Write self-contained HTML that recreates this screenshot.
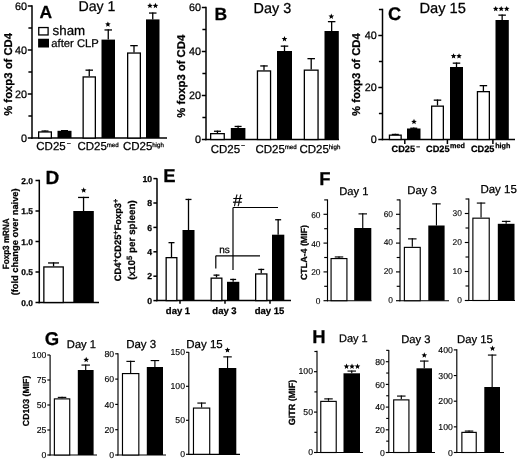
<!DOCTYPE html>
<html><head><meta charset="utf-8"><title>Figure</title>
<style>
html,body{margin:0;padding:0;background:#fff;}
svg{display:block;font-family:"Liberation Sans",sans-serif;fill:#000;will-change:transform;text-rendering:geometricPrecision;}
text{stroke:#000;stroke-width:0.25px;stroke-linejoin:round;}
</style></head><body>
<svg width="520" height="460" viewBox="0 0 520 460">
<rect x="0" y="0" width="520" height="460" fill="#fff" stroke="none"/>
<line x1="32.00" y1="5.25" x2="32.00" y2="138.75" stroke="#000" stroke-width="1.5"/>
<line x1="31.25" y1="138.00" x2="167.00" y2="138.00" stroke="#000" stroke-width="1.5"/>
<line x1="27.80" y1="138.00" x2="32.00" y2="138.00" stroke="#000" stroke-width="1.5"/>
<text x="26.90" y="141.80" font-size="10.8" text-anchor="end">0</text>
<line x1="27.80" y1="94.00" x2="32.00" y2="94.00" stroke="#000" stroke-width="1.5"/>
<text x="26.90" y="97.80" font-size="10.8" text-anchor="end">20</text>
<line x1="27.80" y1="50.00" x2="32.00" y2="50.00" stroke="#000" stroke-width="1.5"/>
<text x="26.90" y="53.80" font-size="10.8" text-anchor="end">40</text>
<line x1="27.80" y1="6.00" x2="32.00" y2="6.00" stroke="#000" stroke-width="1.5"/>
<text x="26.90" y="9.80" font-size="10.8" text-anchor="end">60</text>
<line x1="28.40" y1="116.00" x2="32.00" y2="116.00" stroke="#000" stroke-width="1.5"/>
<line x1="28.40" y1="72.00" x2="32.00" y2="72.00" stroke="#000" stroke-width="1.5"/>
<line x1="28.40" y1="28.00" x2="32.00" y2="28.00" stroke="#000" stroke-width="1.5"/>
<rect x="38.65" y="131.95" width="12.70" height="6.05" fill="#fff" stroke="#000" stroke-width="1.3"/>
<line x1="45.00" y1="131.30" x2="45.00" y2="130.40" stroke="#000" stroke-width="1.3"/>
<line x1="41.50" y1="131.05" x2="48.50" y2="131.05" stroke="#000" stroke-width="1.3"/>
<rect x="57.50" y="130.80" width="14.00" height="7.20" fill="#000"/>
<line x1="64.50" y1="130.80" x2="64.50" y2="130.00" stroke="#000" stroke-width="1.3"/>
<line x1="61.00" y1="130.65" x2="68.00" y2="130.65" stroke="#000" stroke-width="1.3"/>
<rect x="83.15" y="76.95" width="12.20" height="61.05" fill="#fff" stroke="#000" stroke-width="1.3"/>
<line x1="89.25" y1="76.30" x2="89.25" y2="69.50" stroke="#000" stroke-width="1.3"/>
<line x1="85.50" y1="70.15" x2="93.00" y2="70.15" stroke="#000" stroke-width="1.3"/>
<rect x="101.50" y="39.60" width="13.50" height="98.40" fill="#000"/>
<line x1="108.25" y1="39.60" x2="108.25" y2="29.30" stroke="#000" stroke-width="1.3"/>
<line x1="104.50" y1="29.95" x2="112.00" y2="29.95" stroke="#000" stroke-width="1.3"/>
<rect x="127.65" y="53.05" width="12.70" height="84.95" fill="#fff" stroke="#000" stroke-width="1.3"/>
<line x1="134.00" y1="52.40" x2="134.00" y2="45.00" stroke="#000" stroke-width="1.3"/>
<line x1="130.25" y1="45.65" x2="137.75" y2="45.65" stroke="#000" stroke-width="1.3"/>
<rect x="146.00" y="19.40" width="13.50" height="118.60" fill="#000"/>
<line x1="152.75" y1="19.40" x2="152.75" y2="12.40" stroke="#000" stroke-width="1.3"/>
<line x1="149.00" y1="13.05" x2="156.50" y2="13.05" stroke="#000" stroke-width="1.3"/>
<text x="12.20" y="74.40" font-size="11.3" font-weight="bold" text-anchor="middle" transform="rotate(-90 12.20 74.40)">% foxp3 of CD4</text>
<text x="39.60" y="17.50" font-size="17.5" font-weight="bold">A</text>
<text x="78.40" y="11.40" font-size="14.2">Day 1</text>
<rect x="38.75" y="27.55" width="9.35" height="7.4" fill="#fff" stroke="#000" stroke-width="1.3"/>
<rect x="38.1" y="38.75" width="10.9" height="8.75" fill="#000"/>
<text x="52.60" y="34.60" font-size="13.3">sham</text>
<text x="51.30" y="47.00" font-size="11.25">after CLP</text>
<polygon points="107.90,21.44 108.68,23.32 110.71,23.48 109.16,24.80 109.63,26.78 107.90,25.71 106.17,26.78 106.64,24.80 105.09,23.48 107.12,23.32" fill="#000"/>
<polygon points="149.95,2.84 150.73,4.72 152.76,4.88 151.21,6.20 151.68,8.18 149.95,7.11 148.22,8.18 148.69,6.20 147.14,4.88 149.17,4.72" fill="#000"/>
<polygon points="155.45,2.84 156.23,4.72 158.26,4.88 156.71,6.20 157.18,8.18 155.45,7.11 153.72,8.18 154.19,6.20 152.64,4.88 154.67,4.72" fill="#000"/>
<text x="36.30" y="149.80" font-size="11.5">CD25</text>
<text x="66.70" y="145.60" font-size="7">&#8722;</text>
<text x="77.50" y="149.80" font-size="11.5">CD25</text>
<text x="106.70" y="146.60" font-size="6.15">med</text>
<text x="123.00" y="149.80" font-size="11.5">CD25</text>
<text x="152.20" y="146.60" font-size="6.15">high</text>
<line x1="206.00" y1="6.75" x2="206.00" y2="140.25" stroke="#000" stroke-width="1.5"/>
<line x1="205.25" y1="139.50" x2="339.00" y2="139.50" stroke="#000" stroke-width="1.5"/>
<line x1="201.80" y1="139.50" x2="206.00" y2="139.50" stroke="#000" stroke-width="1.5"/>
<text x="200.90" y="143.30" font-size="10.8" text-anchor="end">0</text>
<line x1="201.80" y1="95.50" x2="206.00" y2="95.50" stroke="#000" stroke-width="1.5"/>
<text x="200.90" y="99.30" font-size="10.8" text-anchor="end">20</text>
<line x1="201.80" y1="51.50" x2="206.00" y2="51.50" stroke="#000" stroke-width="1.5"/>
<text x="200.90" y="55.30" font-size="10.8" text-anchor="end">40</text>
<line x1="201.80" y1="7.50" x2="206.00" y2="7.50" stroke="#000" stroke-width="1.5"/>
<text x="200.90" y="11.30" font-size="10.8" text-anchor="end">60</text>
<line x1="202.40" y1="117.50" x2="206.00" y2="117.50" stroke="#000" stroke-width="1.5"/>
<line x1="202.40" y1="73.50" x2="206.00" y2="73.50" stroke="#000" stroke-width="1.5"/>
<line x1="202.40" y1="29.50" x2="206.00" y2="29.50" stroke="#000" stroke-width="1.5"/>
<rect x="210.65" y="133.65" width="13.60" height="5.85" fill="#fff" stroke="#000" stroke-width="1.3"/>
<line x1="217.45" y1="133.00" x2="217.45" y2="130.60" stroke="#000" stroke-width="1.3"/>
<line x1="213.95" y1="131.25" x2="220.95" y2="131.25" stroke="#000" stroke-width="1.3"/>
<rect x="230.80" y="128.00" width="14.60" height="11.50" fill="#000"/>
<line x1="238.10" y1="128.00" x2="238.10" y2="125.80" stroke="#000" stroke-width="1.3"/>
<line x1="234.60" y1="126.45" x2="241.60" y2="126.45" stroke="#000" stroke-width="1.3"/>
<rect x="257.45" y="70.95" width="13.10" height="68.55" fill="#fff" stroke="#000" stroke-width="1.3"/>
<line x1="264.00" y1="70.30" x2="264.00" y2="65.30" stroke="#000" stroke-width="1.3"/>
<line x1="260.25" y1="65.95" x2="267.75" y2="65.95" stroke="#000" stroke-width="1.3"/>
<rect x="277.00" y="51.00" width="15.00" height="88.50" fill="#000"/>
<line x1="284.50" y1="51.00" x2="284.50" y2="45.50" stroke="#000" stroke-width="1.3"/>
<line x1="280.75" y1="46.15" x2="288.25" y2="46.15" stroke="#000" stroke-width="1.3"/>
<rect x="304.35" y="70.15" width="13.70" height="69.35" fill="#fff" stroke="#000" stroke-width="1.3"/>
<line x1="311.20" y1="69.50" x2="311.20" y2="58.00" stroke="#000" stroke-width="1.3"/>
<line x1="307.45" y1="58.65" x2="314.95" y2="58.65" stroke="#000" stroke-width="1.3"/>
<rect x="324.50" y="31.00" width="14.30" height="108.50" fill="#000"/>
<line x1="331.65" y1="31.00" x2="331.65" y2="21.00" stroke="#000" stroke-width="1.3"/>
<line x1="327.90" y1="21.65" x2="335.40" y2="21.65" stroke="#000" stroke-width="1.3"/>
<text x="185.00" y="76.20" font-size="11.3" font-weight="bold" text-anchor="middle" transform="rotate(-90 185.00 76.20)">% foxp3 of CD4</text>
<text x="214.60" y="19.50" font-size="17.5" font-weight="bold">B</text>
<text x="253.60" y="12.60" font-size="14.4">Day 3</text>
<polygon points="284.50,36.04 285.28,37.92 287.31,38.08 285.76,39.40 286.23,41.38 284.50,40.31 282.77,41.38 283.24,39.40 281.69,38.08 283.72,37.92" fill="#000"/>
<polygon points="331.30,13.54 332.08,15.42 334.11,15.58 332.56,16.90 333.03,18.88 331.30,17.81 329.57,18.88 330.04,16.90 328.49,15.58 330.52,15.42" fill="#000"/>
<text x="210.70" y="152.50" font-size="11.5">CD25</text>
<text x="241.10" y="148.30" font-size="7">&#8722;</text>
<text x="255.50" y="152.50" font-size="11.5">CD25</text>
<text x="284.70" y="149.30" font-size="6.15">med</text>
<text x="299.50" y="152.50" font-size="11.5">CD25</text>
<text x="328.70" y="149.30" font-size="6.15">high</text>
<line x1="382.50" y1="8.75" x2="382.50" y2="140.25" stroke="#000" stroke-width="1.5"/>
<line x1="381.75" y1="139.50" x2="515.00" y2="139.50" stroke="#000" stroke-width="1.5"/>
<line x1="378.30" y1="139.50" x2="382.50" y2="139.50" stroke="#000" stroke-width="1.5"/>
<text x="376.80" y="143.30" font-size="10.8" text-anchor="end">0</text>
<line x1="378.30" y1="87.50" x2="382.50" y2="87.50" stroke="#000" stroke-width="1.5"/>
<text x="376.80" y="91.30" font-size="10.8" text-anchor="end">20</text>
<line x1="378.30" y1="35.50" x2="382.50" y2="35.50" stroke="#000" stroke-width="1.5"/>
<text x="376.80" y="39.30" font-size="10.8" text-anchor="end">40</text>
<line x1="378.90" y1="113.50" x2="382.50" y2="113.50" stroke="#000" stroke-width="1.5"/>
<line x1="378.90" y1="61.50" x2="382.50" y2="61.50" stroke="#000" stroke-width="1.5"/>
<line x1="378.90" y1="9.50" x2="382.50" y2="9.50" stroke="#000" stroke-width="1.5"/>
<line x1="404.80" y1="139.50" x2="404.80" y2="144.00" stroke="#000" stroke-width="1.5"/>
<line x1="447.40" y1="139.50" x2="447.40" y2="144.00" stroke="#000" stroke-width="1.5"/>
<line x1="492.90" y1="139.50" x2="492.90" y2="144.00" stroke="#000" stroke-width="1.5"/>
<rect x="389.45" y="135.15" width="11.70" height="4.35" fill="#fff" stroke="#000" stroke-width="1.3"/>
<line x1="395.30" y1="134.50" x2="395.30" y2="133.80" stroke="#000" stroke-width="1.3"/>
<line x1="391.80" y1="134.45" x2="398.80" y2="134.45" stroke="#000" stroke-width="1.3"/>
<rect x="407.00" y="128.50" width="13.50" height="11.00" fill="#000"/>
<line x1="413.75" y1="128.50" x2="413.75" y2="127.60" stroke="#000" stroke-width="1.3"/>
<line x1="410.25" y1="128.25" x2="417.25" y2="128.25" stroke="#000" stroke-width="1.3"/>
<rect x="431.65" y="106.15" width="11.70" height="33.35" fill="#fff" stroke="#000" stroke-width="1.3"/>
<line x1="437.50" y1="105.50" x2="437.50" y2="99.50" stroke="#000" stroke-width="1.3"/>
<line x1="433.75" y1="100.15" x2="441.25" y2="100.15" stroke="#000" stroke-width="1.3"/>
<rect x="450.00" y="67.00" width="13.00" height="72.50" fill="#000"/>
<line x1="456.50" y1="67.00" x2="456.50" y2="62.50" stroke="#000" stroke-width="1.3"/>
<line x1="452.75" y1="63.15" x2="460.25" y2="63.15" stroke="#000" stroke-width="1.3"/>
<rect x="477.45" y="91.65" width="11.90" height="47.85" fill="#fff" stroke="#000" stroke-width="1.3"/>
<line x1="483.40" y1="91.00" x2="483.40" y2="85.00" stroke="#000" stroke-width="1.3"/>
<line x1="479.65" y1="85.65" x2="487.15" y2="85.65" stroke="#000" stroke-width="1.3"/>
<rect x="495.50" y="20.00" width="13.30" height="119.50" fill="#000"/>
<line x1="502.15" y1="20.00" x2="502.15" y2="14.50" stroke="#000" stroke-width="1.3"/>
<line x1="498.40" y1="15.15" x2="505.90" y2="15.15" stroke="#000" stroke-width="1.3"/>
<text x="360.10" y="74.60" font-size="11.3" font-weight="bold" text-anchor="middle" transform="rotate(-90 360.10 74.60)">% foxp3 of CD4</text>
<text x="387.90" y="19.50" font-size="18.3" font-weight="bold">C</text>
<text x="419.40" y="13.30" font-size="14.7">Day 15</text>
<polygon points="414.00,118.84 414.78,120.72 416.81,120.88 415.26,122.20 415.73,124.18 414.00,123.11 412.27,124.18 412.74,122.20 411.19,120.88 413.22,120.72" fill="#000"/>
<polygon points="453.55,53.20 454.33,55.08 456.36,55.24 454.81,56.56 455.28,58.54 453.55,57.47 451.82,58.54 452.29,56.56 450.74,55.24 452.77,55.08" fill="#000"/>
<polygon points="459.05,53.20 459.83,55.08 461.86,55.24 460.31,56.56 460.78,58.54 459.05,57.47 457.32,58.54 457.79,56.56 456.24,55.24 458.27,55.08" fill="#000"/>
<polygon points="495.70,5.90 496.48,7.78 498.51,7.94 496.96,9.26 497.43,11.24 495.70,10.17 493.97,11.24 494.44,9.26 492.89,7.94 494.92,7.78" fill="#000"/>
<polygon points="501.20,5.90 501.98,7.78 504.01,7.94 502.46,9.26 502.93,11.24 501.20,10.17 499.47,11.24 499.94,9.26 498.39,7.94 500.42,7.78" fill="#000"/>
<polygon points="506.70,5.90 507.48,7.78 509.51,7.94 507.96,9.26 508.43,11.24 506.70,10.17 504.97,11.24 505.44,9.26 503.89,7.94 505.92,7.78" fill="#000"/>
<text x="391.50" y="152.20" font-size="9.2" font-weight="bold">CD25</text>
<text x="416.20" y="149.00" font-size="6.5" font-weight="bold">&#8722;</text>
<text x="426.00" y="152.20" font-size="9.2" font-weight="bold">CD25</text>
<text x="450.10" y="147.60" font-size="7.2" font-weight="bold">med</text>
<text x="470.90" y="152.40" font-size="9.2" font-weight="bold">CD25</text>
<text x="495.20" y="148.40" font-size="7.2" font-weight="bold">high</text>
<line x1="39.30" y1="179.75" x2="39.30" y2="303.25" stroke="#000" stroke-width="1.5"/>
<line x1="38.55" y1="302.50" x2="99.00" y2="302.50" stroke="#000" stroke-width="1.5"/>
<line x1="35.50" y1="302.50" x2="39.30" y2="302.50" stroke="#000" stroke-width="1.5"/>
<text x="32.90" y="305.50" font-size="8.4" font-weight="bold" text-anchor="end">0.0</text>
<line x1="35.50" y1="272.00" x2="39.30" y2="272.00" stroke="#000" stroke-width="1.5"/>
<text x="32.90" y="275.00" font-size="8.4" font-weight="bold" text-anchor="end">0.5</text>
<line x1="35.50" y1="241.50" x2="39.30" y2="241.50" stroke="#000" stroke-width="1.5"/>
<text x="32.90" y="244.50" font-size="8.4" font-weight="bold" text-anchor="end">1.0</text>
<line x1="35.50" y1="211.00" x2="39.30" y2="211.00" stroke="#000" stroke-width="1.5"/>
<text x="32.90" y="214.00" font-size="8.4" font-weight="bold" text-anchor="end">1.5</text>
<line x1="35.50" y1="180.50" x2="39.30" y2="180.50" stroke="#000" stroke-width="1.5"/>
<text x="32.90" y="183.50" font-size="8.4" font-weight="bold" text-anchor="end">2.0</text>
<rect x="43.85" y="266.95" width="19.40" height="35.55" fill="#fff" stroke="#000" stroke-width="1.3"/>
<line x1="53.55" y1="266.30" x2="53.55" y2="262.30" stroke="#000" stroke-width="1.3"/>
<line x1="48.05" y1="262.95" x2="59.05" y2="262.95" stroke="#000" stroke-width="1.3"/>
<rect x="73.30" y="211.00" width="20.50" height="91.50" fill="#000"/>
<line x1="83.55" y1="211.00" x2="83.55" y2="196.80" stroke="#000" stroke-width="1.3"/>
<line x1="78.05" y1="197.45" x2="89.05" y2="197.45" stroke="#000" stroke-width="1.3"/>
<polygon points="83.70,187.34 84.48,189.22 86.51,189.38 84.96,190.70 85.43,192.68 83.70,191.61 81.97,192.68 82.44,190.70 80.89,189.38 82.92,189.22" fill="#000"/>
<text x="45.40" y="183.90" font-size="19" font-weight="bold">D</text>
<text x="0.00" y="0.00" font-size="9.0" font-weight="bold" text-anchor="middle" transform="translate(8.60 243.80) rotate(-90) scale(0.9 1)">Foxp3 mRNA</text>
<text x="17.90" y="241.90" font-size="9.3" font-weight="bold" text-anchor="middle" transform="rotate(-90 17.90 241.90)">(fold change over naive)</text>
<line x1="157.00" y1="178.15" x2="157.00" y2="301.35" stroke="#000" stroke-width="1.5"/>
<line x1="156.25" y1="300.60" x2="291.00" y2="300.60" stroke="#000" stroke-width="1.5"/>
<line x1="153.40" y1="300.60" x2="157.00" y2="300.60" stroke="#000" stroke-width="1.5"/>
<text x="152.10" y="303.70" font-size="8.7" font-weight="bold" text-anchor="end">0</text>
<line x1="153.40" y1="276.20" x2="157.00" y2="276.20" stroke="#000" stroke-width="1.5"/>
<text x="152.10" y="279.30" font-size="8.7" font-weight="bold" text-anchor="end">2</text>
<line x1="153.40" y1="251.80" x2="157.00" y2="251.80" stroke="#000" stroke-width="1.5"/>
<text x="152.10" y="254.90" font-size="8.7" font-weight="bold" text-anchor="end">4</text>
<line x1="153.40" y1="227.40" x2="157.00" y2="227.40" stroke="#000" stroke-width="1.5"/>
<text x="152.10" y="230.50" font-size="8.7" font-weight="bold" text-anchor="end">6</text>
<line x1="153.40" y1="203.00" x2="157.00" y2="203.00" stroke="#000" stroke-width="1.5"/>
<text x="152.10" y="206.10" font-size="8.7" font-weight="bold" text-anchor="end">8</text>
<line x1="153.40" y1="178.60" x2="157.00" y2="178.60" stroke="#000" stroke-width="1.5"/>
<text x="152.10" y="181.70" font-size="8.7" font-weight="bold" text-anchor="end">10</text>
<line x1="180.00" y1="300.60" x2="180.00" y2="303.80" stroke="#000" stroke-width="1.5"/>
<line x1="225.00" y1="300.60" x2="225.00" y2="303.80" stroke="#000" stroke-width="1.5"/>
<line x1="270.00" y1="300.60" x2="270.00" y2="303.80" stroke="#000" stroke-width="1.5"/>
<rect x="166.15" y="257.65" width="10.70" height="42.95" fill="#fff" stroke="#000" stroke-width="1.3"/>
<line x1="171.50" y1="257.00" x2="171.50" y2="242.00" stroke="#000" stroke-width="1.3"/>
<line x1="168.50" y1="242.65" x2="174.50" y2="242.65" stroke="#000" stroke-width="1.3"/>
<rect x="182.50" y="230.00" width="12.00" height="70.60" fill="#000"/>
<line x1="188.50" y1="230.00" x2="188.50" y2="198.80" stroke="#000" stroke-width="1.3"/>
<line x1="185.50" y1="199.45" x2="191.50" y2="199.45" stroke="#000" stroke-width="1.3"/>
<rect x="211.15" y="278.15" width="10.70" height="22.45" fill="#fff" stroke="#000" stroke-width="1.3"/>
<line x1="216.50" y1="277.50" x2="216.50" y2="274.50" stroke="#000" stroke-width="1.3"/>
<line x1="213.50" y1="275.15" x2="219.50" y2="275.15" stroke="#000" stroke-width="1.3"/>
<rect x="227.00" y="281.80" width="12.30" height="18.80" fill="#000"/>
<line x1="233.15" y1="281.80" x2="233.15" y2="278.80" stroke="#000" stroke-width="1.3"/>
<line x1="230.15" y1="279.45" x2="236.15" y2="279.45" stroke="#000" stroke-width="1.3"/>
<rect x="255.65" y="273.95" width="11.20" height="26.65" fill="#fff" stroke="#000" stroke-width="1.3"/>
<line x1="261.25" y1="273.30" x2="261.25" y2="268.80" stroke="#000" stroke-width="1.3"/>
<line x1="258.25" y1="269.45" x2="264.25" y2="269.45" stroke="#000" stroke-width="1.3"/>
<rect x="272.00" y="234.70" width="12.30" height="65.90" fill="#000"/>
<line x1="278.15" y1="234.70" x2="278.15" y2="219.10" stroke="#000" stroke-width="1.3"/>
<line x1="275.15" y1="219.75" x2="281.15" y2="219.75" stroke="#000" stroke-width="1.3"/>
<line x1="215.80" y1="255.80" x2="260.00" y2="255.80" stroke="#000" stroke-width="1.2"/>
<line x1="215.80" y1="255.80" x2="215.80" y2="268.50" stroke="#000" stroke-width="1.2"/>
<line x1="233.00" y1="207.50" x2="278.00" y2="207.50" stroke="#000" stroke-width="1.2"/>
<line x1="233.00" y1="207.50" x2="233.00" y2="270.00" stroke="#000" stroke-width="1.2"/>
<text x="219.20" y="253.00" font-size="10">ns</text>
<text x="232.90" y="205.80" font-size="16.5">#</text>
<text x="178.00" y="313.90" font-size="9.5" font-weight="bold" text-anchor="middle">day 1</text>
<text x="224.50" y="313.90" font-size="9.5" font-weight="bold" text-anchor="middle">day 3</text>
<text x="269.50" y="313.90" font-size="9.5" font-weight="bold" text-anchor="middle">day 15</text>
<text x="163.20" y="182.00" font-size="18.5" font-weight="bold">E</text>
<text x="120.70" y="240.00" font-size="9.3" font-weight="bold" text-anchor="middle" transform="rotate(-90 120.70 240.00)">CD4<tspan dy="-3" font-size="7.3">+</tspan><tspan dy="3">CD25</tspan><tspan dy="-3" font-size="7.3">+</tspan><tspan dy="3">Foxp3</tspan><tspan dy="-3" font-size="7.3">+</tspan></text>
<text x="135.30" y="240.00" font-size="9.9" font-weight="bold" text-anchor="middle" transform="rotate(-90 135.30 240.00)">(x10<tspan dy="-3.2" font-size="7.6">5</tspan><tspan dy="3.2"> per spleen)</tspan></text>
<line x1="327.50" y1="199.43" x2="327.50" y2="301.27" stroke="#000" stroke-width="1.15"/>
<line x1="326.93" y1="300.70" x2="371.50" y2="300.70" stroke="#000" stroke-width="1.15"/>
<line x1="323.50" y1="300.70" x2="327.50" y2="300.70" stroke="#000" stroke-width="1.15"/>
<text x="320.50" y="304.10" font-size="8.4" text-anchor="end" style="stroke-width:0.12px">0</text>
<line x1="323.50" y1="271.90" x2="327.50" y2="271.90" stroke="#000" stroke-width="1.15"/>
<text x="320.50" y="275.30" font-size="8.4" text-anchor="end" style="stroke-width:0.12px">20</text>
<line x1="323.50" y1="243.10" x2="327.50" y2="243.10" stroke="#000" stroke-width="1.15"/>
<text x="320.50" y="246.50" font-size="8.4" text-anchor="end" style="stroke-width:0.12px">40</text>
<line x1="323.50" y1="214.30" x2="327.50" y2="214.30" stroke="#000" stroke-width="1.15"/>
<text x="320.50" y="217.70" font-size="8.4" text-anchor="end" style="stroke-width:0.12px">60</text>
<line x1="324.20" y1="286.30" x2="327.50" y2="286.30" stroke="#000" stroke-width="1.15"/>
<line x1="324.20" y1="257.50" x2="327.50" y2="257.50" stroke="#000" stroke-width="1.15"/>
<line x1="324.20" y1="228.70" x2="327.50" y2="228.70" stroke="#000" stroke-width="1.15"/>
<line x1="324.20" y1="199.90" x2="327.50" y2="199.90" stroke="#000" stroke-width="1.15"/>
<rect x="331.07" y="258.57" width="15.85" height="42.12" fill="#fff" stroke="#000" stroke-width="1.15"/>
<line x1="339.00" y1="258.00" x2="339.00" y2="256.40" stroke="#000" stroke-width="1.15"/>
<line x1="334.75" y1="256.97" x2="343.25" y2="256.97" stroke="#000" stroke-width="1.15"/>
<rect x="354.20" y="228.00" width="17.10" height="72.70" fill="#000"/>
<line x1="362.75" y1="228.00" x2="362.75" y2="213.30" stroke="#000" stroke-width="1.15"/>
<line x1="358.50" y1="213.88" x2="367.00" y2="213.88" stroke="#000" stroke-width="1.15"/>
<text x="353.80" y="194.50" font-size="11.2" text-anchor="middle">Day 1</text>
<line x1="400.00" y1="199.43" x2="400.00" y2="301.27" stroke="#000" stroke-width="1.15"/>
<line x1="399.43" y1="300.70" x2="449.00" y2="300.70" stroke="#000" stroke-width="1.15"/>
<line x1="396.00" y1="300.70" x2="400.00" y2="300.70" stroke="#000" stroke-width="1.15"/>
<text x="393.00" y="303.00" font-size="8.4" text-anchor="end" style="stroke-width:0.12px">0</text>
<line x1="396.00" y1="271.90" x2="400.00" y2="271.90" stroke="#000" stroke-width="1.15"/>
<text x="393.00" y="274.20" font-size="8.4" text-anchor="end" style="stroke-width:0.12px">20</text>
<line x1="396.00" y1="243.10" x2="400.00" y2="243.10" stroke="#000" stroke-width="1.15"/>
<text x="393.00" y="245.40" font-size="8.4" text-anchor="end" style="stroke-width:0.12px">40</text>
<line x1="396.00" y1="214.30" x2="400.00" y2="214.30" stroke="#000" stroke-width="1.15"/>
<text x="393.00" y="216.60" font-size="8.4" text-anchor="end" style="stroke-width:0.12px">60</text>
<line x1="396.70" y1="286.30" x2="400.00" y2="286.30" stroke="#000" stroke-width="1.15"/>
<line x1="396.70" y1="257.50" x2="400.00" y2="257.50" stroke="#000" stroke-width="1.15"/>
<line x1="396.70" y1="228.70" x2="400.00" y2="228.70" stroke="#000" stroke-width="1.15"/>
<line x1="396.70" y1="199.90" x2="400.00" y2="199.90" stroke="#000" stroke-width="1.15"/>
<rect x="404.38" y="247.38" width="15.85" height="53.32" fill="#fff" stroke="#000" stroke-width="1.15"/>
<line x1="412.30" y1="246.80" x2="412.30" y2="238.30" stroke="#000" stroke-width="1.15"/>
<line x1="408.05" y1="238.88" x2="416.55" y2="238.88" stroke="#000" stroke-width="1.15"/>
<rect x="428.30" y="225.50" width="16.30" height="75.20" fill="#000"/>
<line x1="436.45" y1="225.50" x2="436.45" y2="203.30" stroke="#000" stroke-width="1.15"/>
<line x1="432.20" y1="203.88" x2="440.70" y2="203.88" stroke="#000" stroke-width="1.15"/>
<text x="422.00" y="194.20" font-size="11.3" text-anchor="middle">Day 3</text>
<line x1="468.80" y1="198.43" x2="468.80" y2="301.07" stroke="#000" stroke-width="1.15"/>
<line x1="468.23" y1="300.50" x2="515.00" y2="300.50" stroke="#000" stroke-width="1.15"/>
<line x1="464.80" y1="300.50" x2="468.80" y2="300.50" stroke="#000" stroke-width="1.15"/>
<text x="461.80" y="303.10" font-size="8.4" text-anchor="end" style="stroke-width:0.12px">0</text>
<line x1="464.80" y1="271.50" x2="468.80" y2="271.50" stroke="#000" stroke-width="1.15"/>
<text x="461.80" y="274.10" font-size="8.4" text-anchor="end" style="stroke-width:0.12px">10</text>
<line x1="464.80" y1="242.50" x2="468.80" y2="242.50" stroke="#000" stroke-width="1.15"/>
<text x="461.80" y="245.10" font-size="8.4" text-anchor="end" style="stroke-width:0.12px">20</text>
<line x1="464.80" y1="213.50" x2="468.80" y2="213.50" stroke="#000" stroke-width="1.15"/>
<text x="461.80" y="216.10" font-size="8.4" text-anchor="end" style="stroke-width:0.12px">30</text>
<line x1="465.50" y1="286.00" x2="468.80" y2="286.00" stroke="#000" stroke-width="1.15"/>
<line x1="465.50" y1="257.00" x2="468.80" y2="257.00" stroke="#000" stroke-width="1.15"/>
<line x1="465.50" y1="228.00" x2="468.80" y2="228.00" stroke="#000" stroke-width="1.15"/>
<line x1="465.50" y1="199.00" x2="468.80" y2="199.00" stroke="#000" stroke-width="1.15"/>
<rect x="472.88" y="218.17" width="16.35" height="82.33" fill="#fff" stroke="#000" stroke-width="1.15"/>
<line x1="481.05" y1="217.60" x2="481.05" y2="202.50" stroke="#000" stroke-width="1.15"/>
<line x1="476.80" y1="203.07" x2="485.30" y2="203.07" stroke="#000" stroke-width="1.15"/>
<rect x="497.80" y="223.80" width="16.70" height="76.70" fill="#000"/>
<line x1="506.15" y1="223.80" x2="506.15" y2="220.80" stroke="#000" stroke-width="1.15"/>
<line x1="501.90" y1="221.38" x2="510.40" y2="221.38" stroke="#000" stroke-width="1.15"/>
<text x="498.60" y="192.90" font-size="11.5" text-anchor="middle">Day 15</text>
<text x="319.20" y="185.40" font-size="18.5" font-weight="bold">F</text>
<text x="306.60" y="252.50" font-size="8.85" font-weight="bold" text-anchor="middle" transform="rotate(-90 306.60 252.50)">CTLA-4 (MIF)</text>
<line x1="50.10" y1="354.93" x2="50.10" y2="455.57" stroke="#000" stroke-width="1.15"/>
<line x1="49.52" y1="455.00" x2="97.00" y2="455.00" stroke="#000" stroke-width="1.15"/>
<line x1="47.30" y1="455.00" x2="50.10" y2="455.00" stroke="#000" stroke-width="1.15"/>
<text x="46.30" y="458.10" font-size="8.7" text-anchor="end" style="stroke-width:0.12px">0</text>
<line x1="47.30" y1="430.00" x2="50.10" y2="430.00" stroke="#000" stroke-width="1.15"/>
<text x="46.30" y="433.10" font-size="8.7" text-anchor="end" style="stroke-width:0.12px">25</text>
<line x1="47.30" y1="405.00" x2="50.10" y2="405.00" stroke="#000" stroke-width="1.15"/>
<text x="46.30" y="408.10" font-size="8.7" text-anchor="end" style="stroke-width:0.12px">50</text>
<line x1="47.30" y1="380.00" x2="50.10" y2="380.00" stroke="#000" stroke-width="1.15"/>
<text x="46.30" y="383.10" font-size="8.7" text-anchor="end" style="stroke-width:0.12px">75</text>
<line x1="47.30" y1="355.00" x2="50.10" y2="355.00" stroke="#000" stroke-width="1.15"/>
<text x="46.30" y="358.10" font-size="8.7" text-anchor="end" style="stroke-width:0.12px">100</text>
<rect x="54.38" y="398.88" width="15.35" height="56.12" fill="#fff" stroke="#000" stroke-width="1.15"/>
<line x1="62.05" y1="398.30" x2="62.05" y2="396.80" stroke="#000" stroke-width="1.15"/>
<line x1="57.80" y1="397.38" x2="66.30" y2="397.38" stroke="#000" stroke-width="1.15"/>
<rect x="77.80" y="370.00" width="15.80" height="85.00" fill="#000"/>
<line x1="85.70" y1="370.00" x2="85.70" y2="364.50" stroke="#000" stroke-width="1.15"/>
<line x1="81.45" y1="365.07" x2="89.95" y2="365.07" stroke="#000" stroke-width="1.15"/>
<polygon points="86.20,356.84 86.98,358.72 89.01,358.88 87.46,360.20 87.93,362.18 86.20,361.11 84.47,362.18 84.94,360.20 83.39,358.88 85.42,358.72" fill="#000"/>
<text x="66.80" y="347.80" font-size="11.2">Day 1</text>
<text x="44.80" y="345.10" font-size="18.5" font-weight="bold">G</text>
<text x="28.80" y="400.90" font-size="8.75" font-weight="bold" text-anchor="middle" transform="rotate(-90 28.80 400.90)">CD103 (MIF)</text>
<line x1="118.00" y1="353.23" x2="118.00" y2="455.57" stroke="#000" stroke-width="1.15"/>
<line x1="117.42" y1="455.00" x2="166.00" y2="455.00" stroke="#000" stroke-width="1.15"/>
<line x1="115.20" y1="455.00" x2="118.00" y2="455.00" stroke="#000" stroke-width="1.15"/>
<text x="114.20" y="458.10" font-size="8.7" text-anchor="end" style="stroke-width:0.12px">0</text>
<line x1="115.20" y1="429.70" x2="118.00" y2="429.70" stroke="#000" stroke-width="1.15"/>
<text x="114.20" y="432.80" font-size="8.7" text-anchor="end" style="stroke-width:0.12px">20</text>
<line x1="115.20" y1="404.40" x2="118.00" y2="404.40" stroke="#000" stroke-width="1.15"/>
<text x="114.20" y="407.50" font-size="8.7" text-anchor="end" style="stroke-width:0.12px">40</text>
<line x1="115.20" y1="379.10" x2="118.00" y2="379.10" stroke="#000" stroke-width="1.15"/>
<text x="114.20" y="382.20" font-size="8.7" text-anchor="end" style="stroke-width:0.12px">60</text>
<line x1="115.20" y1="353.80" x2="118.00" y2="353.80" stroke="#000" stroke-width="1.15"/>
<text x="114.20" y="356.90" font-size="8.7" text-anchor="end" style="stroke-width:0.12px">80</text>
<rect x="122.48" y="373.57" width="16.35" height="81.42" fill="#fff" stroke="#000" stroke-width="1.15"/>
<line x1="130.65" y1="373.00" x2="130.65" y2="360.80" stroke="#000" stroke-width="1.15"/>
<line x1="126.40" y1="361.38" x2="134.90" y2="361.38" stroke="#000" stroke-width="1.15"/>
<rect x="146.80" y="367.00" width="16.20" height="88.00" fill="#000"/>
<line x1="154.90" y1="367.00" x2="154.90" y2="360.00" stroke="#000" stroke-width="1.15"/>
<line x1="150.65" y1="360.57" x2="159.15" y2="360.57" stroke="#000" stroke-width="1.15"/>
<text x="141.20" y="348.30" font-size="11.5" text-anchor="middle">Day 3</text>
<line x1="188.80" y1="351.93" x2="188.80" y2="454.88" stroke="#000" stroke-width="1.15"/>
<line x1="188.23" y1="454.30" x2="240.00" y2="454.30" stroke="#000" stroke-width="1.15"/>
<line x1="186.00" y1="454.30" x2="188.80" y2="454.30" stroke="#000" stroke-width="1.15"/>
<text x="185.00" y="457.40" font-size="8.7" text-anchor="end" style="stroke-width:0.12px">0</text>
<line x1="186.00" y1="420.30" x2="188.80" y2="420.30" stroke="#000" stroke-width="1.15"/>
<text x="185.00" y="423.40" font-size="8.7" text-anchor="end" style="stroke-width:0.12px">50</text>
<line x1="186.00" y1="386.30" x2="188.80" y2="386.30" stroke="#000" stroke-width="1.15"/>
<text x="185.00" y="389.40" font-size="8.7" text-anchor="end" style="stroke-width:0.12px">100</text>
<line x1="186.00" y1="352.30" x2="188.80" y2="352.30" stroke="#000" stroke-width="1.15"/>
<text x="185.00" y="355.40" font-size="8.7" text-anchor="end" style="stroke-width:0.12px">150</text>
<rect x="193.47" y="408.07" width="16.25" height="46.23" fill="#fff" stroke="#000" stroke-width="1.15"/>
<line x1="201.60" y1="407.50" x2="201.60" y2="402.50" stroke="#000" stroke-width="1.15"/>
<line x1="197.35" y1="403.07" x2="205.85" y2="403.07" stroke="#000" stroke-width="1.15"/>
<rect x="218.80" y="368.00" width="17.50" height="86.30" fill="#000"/>
<line x1="227.55" y1="368.00" x2="227.55" y2="356.30" stroke="#000" stroke-width="1.15"/>
<line x1="223.30" y1="356.88" x2="231.80" y2="356.88" stroke="#000" stroke-width="1.15"/>
<text x="204.50" y="348.30" font-size="11.5" text-anchor="middle">Day 15</text>
<polygon points="227.50,347.20 228.28,349.08 230.31,349.24 228.76,350.56 229.23,352.54 227.50,351.47 225.77,352.54 226.24,350.56 224.69,349.24 226.72,349.08" fill="#000"/>
<line x1="317.00" y1="350.82" x2="317.00" y2="453.07" stroke="#000" stroke-width="1.15"/>
<line x1="316.43" y1="452.50" x2="363.00" y2="452.50" stroke="#000" stroke-width="1.15"/>
<line x1="314.00" y1="452.50" x2="317.00" y2="452.50" stroke="#000" stroke-width="1.15"/>
<text x="313.00" y="455.20" font-size="8.7" text-anchor="end" style="stroke-width:0.12px">0</text>
<line x1="314.00" y1="412.10" x2="317.00" y2="412.10" stroke="#000" stroke-width="1.15"/>
<text x="313.00" y="414.80" font-size="8.7" text-anchor="end" style="stroke-width:0.12px">50</text>
<line x1="314.00" y1="371.70" x2="317.00" y2="371.70" stroke="#000" stroke-width="1.15"/>
<text x="313.00" y="374.40" font-size="8.7" text-anchor="end" style="stroke-width:0.12px">100</text>
<line x1="314.40" y1="432.30" x2="317.00" y2="432.30" stroke="#000" stroke-width="1.15"/>
<line x1="314.40" y1="391.90" x2="317.00" y2="391.90" stroke="#000" stroke-width="1.15"/>
<line x1="314.40" y1="351.50" x2="317.00" y2="351.50" stroke="#000" stroke-width="1.15"/>
<rect x="320.77" y="401.38" width="15.45" height="51.12" fill="#fff" stroke="#000" stroke-width="1.15"/>
<line x1="328.50" y1="400.80" x2="328.50" y2="398.30" stroke="#000" stroke-width="1.15"/>
<line x1="324.25" y1="398.88" x2="332.75" y2="398.88" stroke="#000" stroke-width="1.15"/>
<rect x="343.50" y="373.30" width="16.50" height="79.20" fill="#000"/>
<line x1="351.75" y1="373.30" x2="351.75" y2="370.50" stroke="#000" stroke-width="1.15"/>
<line x1="347.50" y1="371.07" x2="356.00" y2="371.07" stroke="#000" stroke-width="1.15"/>
<polygon points="346.50,363.54 347.28,365.42 349.31,365.58 347.76,366.90 348.23,368.88 346.50,367.81 344.77,368.88 345.24,366.90 343.69,365.58 345.72,365.42" fill="#000"/>
<polygon points="352.00,363.54 352.78,365.42 354.81,365.58 353.26,366.90 353.73,368.88 352.00,367.81 350.27,368.88 350.74,366.90 349.19,365.58 351.22,365.42" fill="#000"/>
<polygon points="357.50,363.54 358.28,365.42 360.31,365.58 358.76,366.90 359.23,368.88 357.50,367.81 355.77,368.88 356.24,366.90 354.69,365.58 356.72,365.42" fill="#000"/>
<text x="339.00" y="342.10" font-size="11">Day 1</text>
<text x="312.20" y="343.00" font-size="18.5" font-weight="bold">H</text>
<text x="294.70" y="402.50" font-size="9" font-weight="bold" text-anchor="middle" transform="rotate(-90 294.70 402.50)">GITR (MIF)</text>
<line x1="388.80" y1="349.93" x2="388.80" y2="453.07" stroke="#000" stroke-width="1.15"/>
<line x1="388.23" y1="452.50" x2="435.00" y2="452.50" stroke="#000" stroke-width="1.15"/>
<line x1="385.80" y1="452.50" x2="388.80" y2="452.50" stroke="#000" stroke-width="1.15"/>
<text x="384.80" y="455.60" font-size="8.7" text-anchor="end" style="stroke-width:0.12px">0</text>
<line x1="385.80" y1="429.80" x2="388.80" y2="429.80" stroke="#000" stroke-width="1.15"/>
<text x="384.80" y="432.90" font-size="8.7" text-anchor="end" style="stroke-width:0.12px">20</text>
<line x1="385.80" y1="407.10" x2="388.80" y2="407.10" stroke="#000" stroke-width="1.15"/>
<text x="384.80" y="410.20" font-size="8.7" text-anchor="end" style="stroke-width:0.12px">40</text>
<line x1="385.80" y1="384.40" x2="388.80" y2="384.40" stroke="#000" stroke-width="1.15"/>
<text x="384.80" y="387.50" font-size="8.7" text-anchor="end" style="stroke-width:0.12px">60</text>
<line x1="385.80" y1="361.70" x2="388.80" y2="361.70" stroke="#000" stroke-width="1.15"/>
<text x="384.80" y="364.80" font-size="8.7" text-anchor="end" style="stroke-width:0.12px">80</text>
<line x1="386.20" y1="441.15" x2="388.80" y2="441.15" stroke="#000" stroke-width="1.15"/>
<line x1="386.20" y1="418.45" x2="388.80" y2="418.45" stroke="#000" stroke-width="1.15"/>
<line x1="386.20" y1="395.75" x2="388.80" y2="395.75" stroke="#000" stroke-width="1.15"/>
<line x1="386.20" y1="373.05" x2="388.80" y2="373.05" stroke="#000" stroke-width="1.15"/>
<line x1="386.20" y1="350.35" x2="388.80" y2="350.35" stroke="#000" stroke-width="1.15"/>
<rect x="393.68" y="399.88" width="15.25" height="52.62" fill="#fff" stroke="#000" stroke-width="1.15"/>
<line x1="401.30" y1="399.30" x2="401.30" y2="395.50" stroke="#000" stroke-width="1.15"/>
<line x1="397.05" y1="396.07" x2="405.55" y2="396.07" stroke="#000" stroke-width="1.15"/>
<rect x="416.50" y="368.30" width="15.50" height="84.20" fill="#000"/>
<line x1="424.25" y1="368.30" x2="424.25" y2="360.50" stroke="#000" stroke-width="1.15"/>
<line x1="420.00" y1="361.07" x2="428.50" y2="361.07" stroke="#000" stroke-width="1.15"/>
<polygon points="424.30,352.34 425.08,354.22 427.11,354.38 425.56,355.70 426.03,357.68 424.30,356.61 422.57,357.68 423.04,355.70 421.49,354.38 423.52,354.22" fill="#000"/>
<text x="401.20" y="342.60" font-size="11.2">Day 3</text>
<line x1="456.80" y1="349.32" x2="456.80" y2="453.07" stroke="#000" stroke-width="1.15"/>
<line x1="456.23" y1="452.50" x2="504.00" y2="452.50" stroke="#000" stroke-width="1.15"/>
<line x1="453.80" y1="452.50" x2="456.80" y2="452.50" stroke="#000" stroke-width="1.15"/>
<text x="452.80" y="455.60" font-size="8.7" text-anchor="end" style="stroke-width:0.12px">0</text>
<line x1="453.80" y1="426.85" x2="456.80" y2="426.85" stroke="#000" stroke-width="1.15"/>
<text x="452.80" y="429.95" font-size="8.7" text-anchor="end" style="stroke-width:0.12px">100</text>
<line x1="453.80" y1="401.20" x2="456.80" y2="401.20" stroke="#000" stroke-width="1.15"/>
<text x="452.80" y="404.30" font-size="8.7" text-anchor="end" style="stroke-width:0.12px">200</text>
<line x1="453.80" y1="375.55" x2="456.80" y2="375.55" stroke="#000" stroke-width="1.15"/>
<text x="452.80" y="378.65" font-size="8.7" text-anchor="end" style="stroke-width:0.12px">300</text>
<line x1="453.80" y1="349.90" x2="456.80" y2="349.90" stroke="#000" stroke-width="1.15"/>
<text x="452.80" y="353.00" font-size="8.7" text-anchor="end" style="stroke-width:0.12px">400</text>
<rect x="461.88" y="432.38" width="14.35" height="20.12" fill="#fff" stroke="#000" stroke-width="1.15"/>
<line x1="469.05" y1="431.80" x2="469.05" y2="430.50" stroke="#000" stroke-width="1.15"/>
<line x1="464.80" y1="431.07" x2="473.30" y2="431.07" stroke="#000" stroke-width="1.15"/>
<rect x="484.30" y="387.00" width="15.70" height="65.50" fill="#000"/>
<line x1="492.15" y1="387.00" x2="492.15" y2="354.50" stroke="#000" stroke-width="1.15"/>
<line x1="487.90" y1="355.07" x2="496.40" y2="355.07" stroke="#000" stroke-width="1.15"/>
<polygon points="492.50,345.54 493.28,347.42 495.31,347.58 493.76,348.90 494.23,350.88 492.50,349.81 490.77,350.88 491.24,348.90 489.69,347.58 491.72,347.42" fill="#000"/>
<text x="457.00" y="342.60" font-size="11.3">Day 15</text>
</svg>
</body></html>
